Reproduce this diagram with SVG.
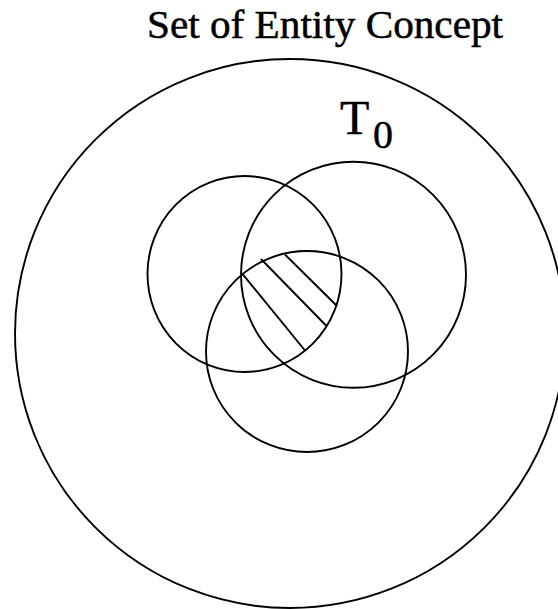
<svg xmlns="http://www.w3.org/2000/svg" width="558" height="609" viewBox="0 0 558 609">
<style>
.c{fill:none;stroke:#000;stroke-width:1.9}
.h{stroke:#000;stroke-width:1.9}
.t{font-family:"Liberation Serif","Times New Roman",serif;fill:#000;stroke:#000;stroke-width:0.5}
</style>
<rect width="558" height="609" fill="#fff"/>
<g id="title"><text class="t" x="147" y="38" font-size="40" textLength="356" lengthAdjust="spacingAndGlyphs">Set of Entity Concept</text></g>
<g id="outer"><ellipse class="c" cx="290" cy="333.5" rx="275" ry="274.5"/></g>
<g id="label-T0"><text class="t" x="340" y="134" font-size="48">T</text><text class="t" x="373" y="148" font-size="40">0</text></g>
<g id="circle-left"><ellipse class="c" cx="244.5" cy="274" rx="97" ry="98"/></g>
<g id="circle-right"><ellipse class="c" cx="353.5" cy="274.7" rx="112.5" ry="113"/></g>
<g id="circle-bottom"><ellipse class="c" cx="307" cy="351.5" rx="101" ry="100.5"/></g>
<g id="hatch">
<line class="h" x1="242" y1="273.3" x2="305" y2="350.5"/>
<line class="h" x1="261" y1="259" x2="326" y2="325.5"/>
<line class="h" x1="285" y1="254.5" x2="337" y2="306"/>
</g>
</svg>
